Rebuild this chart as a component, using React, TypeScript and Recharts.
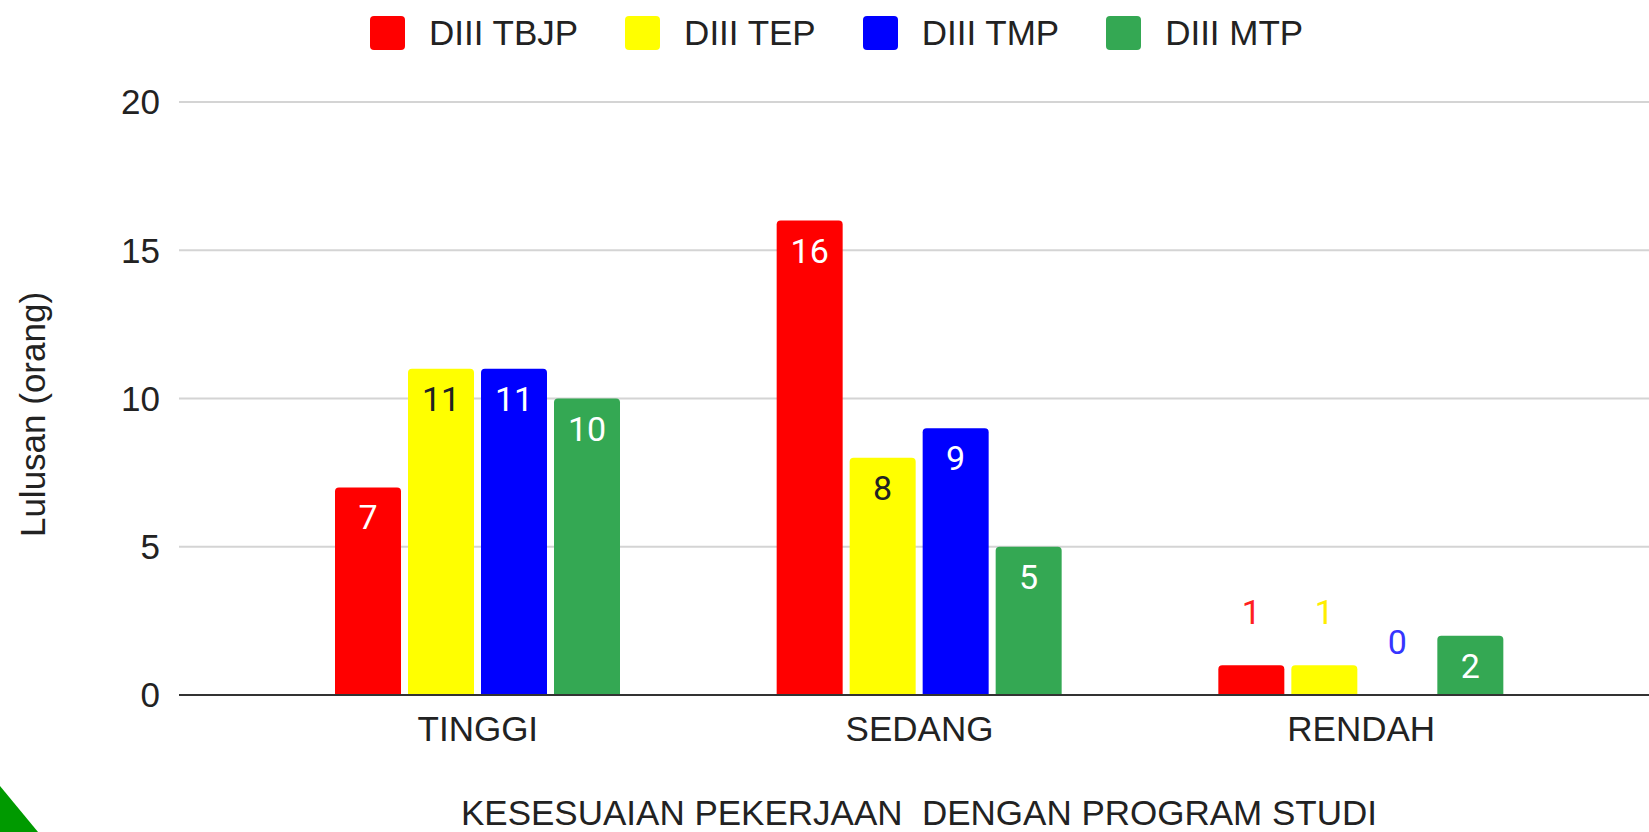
import * as React from "react";
import { BarChart, Bar, XAxis, YAxis, CartesianGrid, LabelList, Label } from "recharts";

const categories = ["TINGGI", "SEDANG", "RENDAH"];
const tbjp = [7, 16, 1];
const tep = [11, 8, 1];
const tmp = [11, 9, 0];
const mtp = [10, 5, 2];
const yTicks = [0, 5, 10, 15, 20];

const series = [
  { key: "tbjp", name: "DIII TBJP", color: "#ff0000", ink: "#ffffff", outInk: "#ff2020", values: tbjp },
  { key: "tep", name: "DIII TEP", color: "#ffff00", ink: "#222222", outInk: "#ffee00", values: tep },
  { key: "tmp", name: "DIII TMP", color: "#0000ff", ink: "#ffffff", outInk: "#3535ff", values: tmp },
  { key: "mtp", name: "DIII MTP", color: "#34a853", ink: "#ffffff", outInk: "#34a853", values: mtp },
];

const data = categories.map((cat, i) => {
  const row: Record<string, string | number> = { cat };
  series.forEach((s) => (row[s.key] = s.values[i]));
  return row;
});

const FONT = "'Liberation Sans', Arial, sans-serif";
const W = 1649;
const H = 832;

const makeLabel = (s: (typeof series)[number]) => (props: any) => {
  const { x, y, width, height, value } = props;
  if (value == null) return null;
  const inside = Number(height) >= 45;
  return (
    <text
      x={Number(x) + Number(width) / 2}
      y={inside ? Number(y) + 42 : Number(y) - 41}
      textAnchor="middle"
      fill={inside ? s.ink : s.outInk}
      fontFamily="Roboto, sans-serif"
      fontSize={34}
    >
      {String(value)}
    </text>
  );
};

export default function App() {
  return (
    <div style={{ position: "absolute", left: 0, top: 0, width: W, height: H, background: "#fff" }}>
      <div
        style={{
          position: "absolute",
          top: 13,
          left: 370,
          display: "flex",
          alignItems: "center",
          fontFamily: FONT,
          fontSize: 35,
          color: "#222",
          whiteSpace: "nowrap",
        }}
      >
        {series.map((s) => (
          <div key={s.key} style={{ display: "flex", alignItems: "center", marginRight: 47 }}>
            <span style={{ width: 35, height: 34, borderRadius: 4, background: s.color, marginRight: 24 }} />
            <span>{s.name}</span>
          </div>
        ))}
      </div>
      <BarChart
        width={W}
        height={H}
        data={data}
        margin={{ top: 102, right: 0, left: 0, bottom: 0 }}
        barSize={66}
        barGap={7}
      >
        <CartesianGrid vertical={false} stroke="#d4d4d4" strokeWidth={2} />
        <XAxis
          dataKey="cat"
          height={137}
          padding={{ left: 78, right: 67 }}
          tickLine={false}
          axisLine={{ stroke: "#333", strokeWidth: 2 }}
          tickMargin={15}
          tick={{ fill: "#222", fontSize: 35, fontFamily: FONT }}
        >
          <Label
            content={(p: any) => {
              const vb = p.viewBox || {};
              return (
                <text
                  x={vb.x + vb.width / 2 + 5}
                  y={vb.y + vb.height - 7}
                  textAnchor="middle"
                  fill="#222"
                  fontSize={35}
                  fontFamily={FONT}
                  style={{ whiteSpace: "pre" }}
                >
                  {"KESESUAIAN PEKERJAAN  DENGAN PROGRAM STUDI"}
                </text>
              );
            }}
          />
        </XAxis>
        <YAxis
          width={179}
          domain={[0, 20]}
          ticks={yTicks}
          interval={0}
          tickLine={false}
          axisLine={false}
          tickMargin={13}
          tick={{ fill: "#222", fontSize: 35, fontFamily: FONT }}
        >
          <Label
            content={(p: any) => {
              const vb = p.viewBox || {};
              const cx = 32;
              const cy = vb.y + vb.height / 2 + 16;
              return (
                <text
                  x={cx}
                  y={cy}
                  transform={`rotate(-90 ${cx} ${cy})`}
                  textAnchor="middle"
                  dominantBaseline="central"
                  fill="#222"
                  fontSize={35}
                  fontFamily={FONT}
                >
                  Lulusan (orang)
                </text>
              );
            }}
          />
        </YAxis>
        {series.map((s) => (
          <Bar
            key={s.key}
            dataKey={s.key}
            name={s.name}
            fill={s.color}
            radius={[4, 4, 0, 0]}
            minPointSize={0.01}
            isAnimationActive={false}
          >
            <LabelList dataKey={s.key} content={makeLabel(s)} />
          </Bar>
        ))}
      </BarChart>
      <svg width={60} height={60} style={{ position: "absolute", left: 0, top: H - 60 }}>
        <polygon points="0,14 38,60 0,60" fill="#009a00" />
      </svg>
    </div>
  );
}
